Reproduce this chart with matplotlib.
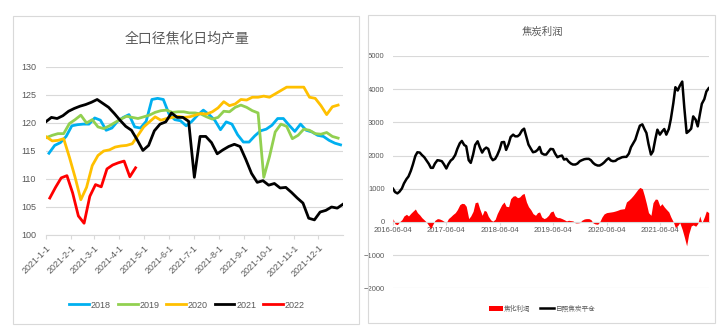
#!/usr/bin/env python3
"""
Coking output (weekly, by year) and coke profit vs. Rizhao coke price
"""

import pandas as pd
import matplotlib
matplotlib.use("Agg")
import matplotlib.pyplot as plt
from matplotlib.patches import Rectangle, Patch
from matplotlib.lines import Line2D

plt.rcParams['font.family'] = ['Liberation Sans', 'Noto Sans CJK SC', 'DejaVu Sans']

# ---- left chart: daily average coking output, weekly points (all years drawn on a 2021 calendar)
years = ['2018', '2019', '2020', '2021', '2022']
year_colors = ['#00B0F0', '#92D050', '#FFC000', '#000000', '#FF0000']
year_starts = ['2021-01-05', '2021-01-02', '2021-01-02', '2021-01-01', '2021-01-06']

out_2018 = [114.6, 116.0, 116.5, 117.6, 119.5, 119.7, 119.8, 119.8, 120.9, 120.5,
            118.7, 119.1, 120.3, 121.0, 121.5, 119.3, 119.1, 120.3, 124.2, 124.4,
            124.2, 121.6, 120.6, 120.4, 119.5, 120.3, 121.4, 122.3, 121.5, 120.5,
            118.8, 120.2, 119.8, 117.9, 116.6, 116.6, 117.7, 118.6, 118.9, 119.6,
            120.8, 120.8, 119.6, 118.5, 119.8, 118.7, 118.4, 117.8, 117.6, 116.9,
            116.4, 116.1]
out_2019 = [117.4, 117.8, 118.1, 118.1, 119.9, 120.6, 121.4, 120.0, 120.6, 119.3,
            119.0, 119.5, 120.1, 120.7, 121.2, 121.0, 120.8, 121.1, 121.4, 121.9,
            122.2, 122.3, 121.9, 122.0, 122.0, 121.8, 121.8, 121.6, 121.1, 120.7,
            121.0, 122.1, 122.0, 122.8, 123.2, 122.8, 122.2, 121.8, 110.3, 114.0,
            118.4, 119.8, 119.4, 117.2, 117.8, 118.9, 118.7, 118.1, 118.0, 118.3,
            117.6, 117.3]
out_2020 = [117.5, 116.8, 116.9, 117.2, 113.9, 110.3, 106.3, 108.5, 112.4, 114.2,
            115.0, 115.2, 115.7, 115.9, 116.0, 116.3, 117.8, 119.3, 120.2, 121.1,
            120.5, 120.8, 121.0, 121.2, 121.0, 121.1, 121.4, 121.7, 121.6, 122.0,
            122.7, 123.8, 123.1, 123.4, 124.2, 124.1, 124.6, 124.6, 124.8, 124.6,
            125.2, 125.8, 126.4, 126.4, 126.4, 126.4, 124.6, 124.4, 123.1, 121.5,
            122.9, 123.2]
out_2021 = [120.2, 121.0, 120.8, 121.3, 122.1, 122.6, 123.0, 123.3, 123.7, 124.2,
            123.5, 122.8, 121.7, 120.5, 119.4, 118.7, 117.0, 115.1, 116.0, 118.6,
            119.8, 120.2, 121.8, 121.0, 121.0, 120.3, 110.3, 117.6, 117.6, 116.5,
            114.5, 115.2, 115.8, 116.2, 115.8, 113.5, 111.0, 109.4, 109.7, 108.9,
            109.2, 108.4, 108.5, 107.6, 106.6, 105.7, 103.0, 102.7, 104.1, 104.4,
            105.0, 104.8, 105.5]
out_2022 = [106.6, 108.5, 110.2, 110.6, 107.5, 103.4, 102.1, 106.9, 109.0, 108.6,
            111.8, 112.5, 112.9, 113.2, 110.4, 112.0]

month_ticks = ['2021-%d-1' % m for m in range(1, 13)]
output_yticks = [100, 105, 110, 115, 120, 125, 130]

# ---- right chart: coking profit and Rizhao coke price, twice a month
series_start = '2016-06-01'
year_ticks = ['2016-06-04', '2017-06-04', '2018-06-04', '2019-06-04', '2020-06-04', '2021-06-04']
profit_yticks = [-2000, -1000, 0, 1000, 2000, 3000, 4000, 5000]

coke_price = [1000, 900, 860, 910, 1010, 1160, 1290, 1370, 1540, 1730,
              1990, 2100, 2090, 2020, 1950, 1860, 1750, 1630, 1630, 1760,
              1860, 1850, 1830, 1740, 1610, 1740, 1850, 1900, 2020, 2200,
              2370, 2440, 2320, 2280, 1860, 1780, 2030, 2320, 2430, 2260,
              2090, 2190, 2240, 2200, 1950, 1860, 1900, 2010, 2190, 2400,
              2410, 2170, 2350, 2560, 2630, 2580, 2580, 2630, 2760, 2810,
              2550, 2330, 2200, 2100, 2120, 2170, 2260, 2070, 2030, 2030,
              2120, 2200, 2190, 2060, 1950, 1980, 2000, 1880, 1900, 1820,
              1760, 1730, 1730, 1760, 1830, 1860, 1890, 1900, 1900, 1860,
              1780, 1730, 1700, 1700, 1740, 1790, 1870, 1920, 1850, 1830,
              1840, 1890, 1920, 1950, 1960, 1960, 2060, 2250, 2370, 2480,
              2720, 2900, 2940, 2800, 2680, 2350, 2030, 2130, 2500, 2780,
              2630, 2720, 2800, 2630, 2800, 3100, 3580, 4060, 3960, 4100,
              4230, 3450, 2680, 2730, 2810, 3180, 3080, 2880, 3230, 3560,
              3700, 3930, 4030]
coking_profit = [100, -60, -80, 0, 70, 180, 230, 180, 260, 320,
                 390, 280, 210, 130, 60, 0, -110, -200, -70, 50,
                 100, 90, 60, 20, -20, 100, 160, 220, 280, 370,
                 520, 560, 550, 470, 100, 180, 320, 580, 600, 400,
                 200, 350, 320, 170, 60, 20, 80, 250, 400, 520,
                 600, 470, 460, 700, 780, 790, 730, 750, 830, 860,
                 600, 460, 360, 250, 200, 280, 300, 150, 100, 130,
                 200, 300, 330, 180, 130, 130, 100, 70, 30, 50,
                 40, 30, -30, -30, -20, 50, 90, 100, 100, 70,
                 -30, -60, -70, 0, 150, 240, 280, 290, 300, 310,
                 330, 350, 380, 390, 400, 600, 660, 720, 800, 880,
                 980, 1040, 1000, 790, 550, 280, 200, 580, 690, 680,
                 480, 550, 450, 380, 300, 150, 0, -170, -110, -20,
                 -230, -450, -720, -370, -120, -90, -130, -50, 180, -30,
                 150, 330, 280]

GRAY = '#595959'
GRID = '#D9D9D9'


def left_chart(fig):
    ax = fig.add_axes([45.7 / 724, 1 - 235 / 336, 297.3 / 724, 168 / 336])
    series = [out_2018, out_2019, out_2020, out_2021, out_2022]
    for name, color, start, vals in zip(years, year_colors, year_starts, series):
        dates = pd.date_range(start, periods=len(vals), freq='7D')
        ax.plot(dates, vals, color=color, lw=2.0, label=name, solid_joinstyle='round')

    ax.set_xlim(pd.Timestamp('2021-01-01'), pd.Timestamp('2021-12-31'))
    ax.set_ylim(100, 130)
    ax.set_yticks(output_yticks)
    ax.yaxis.grid(True, color=GRID, lw=0.8)
    ax.set_axisbelow(True)
    ax.set_xticks([pd.to_datetime(t) for t in month_ticks])
    ax.set_xticklabels(month_ticks, rotation=45, ha='right', va='top',
                       rotation_mode='anchor')
    for s in ['left', 'right', 'top']:
        ax.spines[s].set_visible(False)
    ax.spines['bottom'].set_color(GRID)
    ax.tick_params(axis='x', colors=GRID, length=3, width=0.8, labelcolor=GRAY,
                   labelsize=6.5, pad=3)
    ax.tick_params(axis='y', length=0, labelcolor=GRAY, labelsize=6.5, pad=7)

    fig.text(187 / 724, 1 - 38 / 336, '全口径焦化日均产量', ha='center', va='center',
             fontsize=10, color=GRAY)
    fig.legend(*ax.get_legend_handles_labels(), loc='center',
               bbox_to_anchor=(187 / 724, 1 - 305 / 336), ncol=5, frameon=False,
               fontsize=6.5, handlelength=2.2, handletextpad=0.2, columnspacing=0.75,
               labelcolor=GRAY)


def right_chart(fig):
    ax = fig.add_axes([393 / 724, 1 - 288.3 / 336, 315.7 / 724, 232.3 / 336])
    dates = pd.date_range(series_start, periods=len(coke_price), freq='SMS') + pd.Timedelta(days=3)
    ax.fill_between(dates, 0, coking_profit, color='#FF0000', lw=0, zorder=2)
    ax.plot(dates, coke_price, color='black', lw=1.8, zorder=3)

    ax.set_xlim(pd.Timestamp('2016-06-04'), dates[-1])
    ax.set_ylim(-2000, 5000)
    ax.set_yticks(profit_yticks)
    ax.yaxis.grid(True, color=GRID, lw=0.8)
    ax.set_axisbelow(True)
    ax.set_xticks([pd.Timestamp(t) for t in year_ticks])
    ax.set_xticklabels(year_ticks)
    for s in ['left', 'right', 'top']:
        ax.spines[s].set_visible(False)
    ax.spines['bottom'].set_position(('data', 0))
    ax.spines['bottom'].set_color(GRID)
    ax.tick_params(axis='x', colors=GRID, length=2, width=0.8, labelcolor=GRAY,
                   labelsize=5.5, pad=2)
    ax.tick_params(axis='y', length=0, labelcolor=GRAY, labelsize=5.5, pad=6)

    fig.text(542 / 724, 1 - 32 / 336, '焦炭利润', ha='center', va='center',
             fontsize=7.5, color=GRAY)
    handles = [Patch(facecolor='#FF0000', edgecolor='none'),
               Line2D([], [], color='black', lw=1.8)]
    fig.legend(handles, ['焦化利润', '日照焦炭平仓'], loc='center',
               bbox_to_anchor=(542 / 724, 1 - 309 / 336), ncol=2, frameon=False,
               fontsize=4.8, handlelength=2.1, handleheight=0.8, handletextpad=0.2,
               columnspacing=1.5, labelcolor=GRAY)


def main():
    fig = plt.figure(figsize=(7.24, 3.36), dpi=100)
    # panel frames
    fig.patches.append(Rectangle((12.7 / 724, 1 - 324 / 336), 346.3 / 724, 308 / 336,
                                 transform=fig.transFigure, fill=False, ec=GRID, lw=0.8))
    fig.patches.append(Rectangle((368 / 724, 1 - 323 / 336), 347 / 724, 308 / 336,
                                 transform=fig.transFigure, fill=False, ec=GRID, lw=0.8))
    left_chart(fig)
    right_chart(fig)
    fig.savefig('out.png', dpi=100)


if __name__ == '__main__':
    main()
